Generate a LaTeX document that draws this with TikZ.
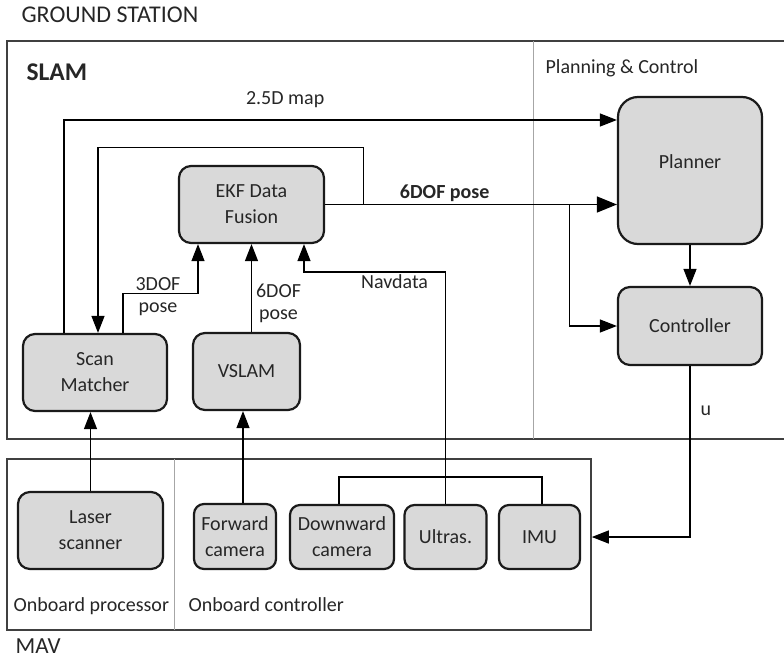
\documentclass[tikz,border=0pt]{standalone}
\usepackage{fontspec}
\setmainfont{Carlito}
\usepackage{tikz}
\usetikzlibrary{arrows.meta,positioning,calc}
\definecolor{boxfill}{HTML}{D9D9D9}
\definecolor{boxline}{HTML}{1A1A1A}
\definecolor{frameline}{HTML}{404040}
\definecolor{divline}{HTML}{A6A6A6}
\definecolor{txt}{HTML}{262626}
\newcommand\diafont{\fontsize{20}{26}\selectfont}
\newcommand\lblfont{\fontsize{20}{22}\selectfont}
\tikzset{
    >={Triangle[length=17pt,width=13pt]},
    every picture/.style={line width=1.2pt},
    box/.style={draw=boxline,fill=boxfill,line width=2.2pt,rounded corners=12pt,
        align=center,inner sep=2pt,font=\diafont,text=txt},
    lbl/.style={inner sep=2pt,align=center,font=\lblfont,text=txt},
    title/.style={inner sep=0pt,anchor=base west,font=\diafont,text=txt},
    frame/.style={draw=frameline,line width=1.6pt},
    divider/.style={draw=divline,line width=1pt}
}

\begin{document}
\begin{tikzpicture}[x=1pt,y=-1pt]
    \useasboundingbox (0,0) rectangle (784,659);

    % Ground station
    \draw[frame] (790,41) -- (7,41) -- (7,439) -- (790,439);
    \draw[divider] (533,41) -- (533,439);
    \node[title,font=\fontsize{24}{28}\selectfont] (gs) at (21,22) {GROUND STATION};
    \node[title,font=\fontsize{25.5}{30}\selectfont\bfseries] (slam) at (26,80) {SLAM};
    \node[title] (pc) at (545,73) {Planning \& Control};

    \node[box,minimum width=145pt,minimum height=77pt] (ekf) at (251.5,204.5) {EKF Data\\Fusion};
    \node[box,rounded corners=20pt,minimum width=144pt,minimum height=147pt,text depth=18pt] (planner) at (690,170.5) {Planner};
    \node[box,minimum width=144pt,minimum height=78pt] (ctrl) at (690,326) {Controller};
    \node[box,minimum width=144pt,minimum height=77pt] (scan) at (95,372.5) {Scan\\Matcher};
    \node[box,minimum width=107pt,minimum height=77pt] (vslam) at (246.5,371.5) {VSLAM};

    % MAV
    \node[frame,minimum width=584pt,minimum height=171pt,inner sep=0pt] (mav) at (299,544.5) {};
    \draw[divider] (174,459) -- (174,630);
    \node[box,minimum width=145pt,minimum height=77pt] (laser) at (90.5,530.5) {Laser\\scanner};
    \node[box,rounded corners=10pt,minimum width=82pt,minimum height=65pt] (fwd) at (235,536.5) {Forward\\camera};
    \node[box,rounded corners=10pt,minimum width=104pt,minimum height=64pt] (down) at (342,537) {Downward\\camera};
    \node[box,rounded corners=10pt,minimum width=82pt,minimum height=64pt] (ultra) at (445.5,537) {Ultras.};
    \node[box,rounded corners=10pt,minimum width=81pt,minimum height=64pt] (imu) at (539.5,537) {IMU};
    \node[title] (proc) at (13,611) {Onboard processor};
    \node[title] (onctrl) at (188,611) {Onboard controller};
    \node[title,font=\fontsize{23}{27}\selectfont,text depth=0pt] (mavlbl) at (15,653.5) {MAV};

    % map and pose to planning
    \draw[->] ([xshift=-31pt]scan.north) |- ([yshift=50.5pt]planner.west)
        node[lbl,pos=0.7,above=10pt] (maplbl) {2.5D map};
    \draw[->,>={Triangle[length=20pt,width=16pt]}] (ekf.east) -- (ekf.east -| planner.west)
        node[lbl,pos=0.41,above,font=\lblfont\bfseries] (poselbl) {6DOF pose};
    \draw[->] ([xshift=244pt]ekf.east) |- (ctrl.west);
    \draw[->] (planner.south) -- (ctrl.north);
    \draw[->] ([xshift=38pt]ekf.east) -- ++(0,-57) -| ([xshift=3pt]scan.north);

    % inputs of the EKF
    \draw[->] ([xshift=28pt]scan.north) |- ([xshift=-53.5pt,yshift=-49pt]ekf.south)
        node[lbl,pos=0.75,xshift=-2.5pt,yshift=-4pt] (dof3lbl) {3DOF\\pose}
        -- ([xshift=-53.5pt]ekf.south);
    \draw[->] (vslam.north -| ekf.south) -- (ekf.south)
        node[lbl,pos=0.32,anchor=west,xshift=2pt] (dof6lbl) {6DOF\\pose};
    \draw[->] (ultra.north) -- ++(0,-232) -| ([xshift=52.5pt]ekf.south)
        node[lbl,pos=0.18,below] (navlbl) {Navdata};
    \draw ([xshift=-3pt]down.north) -- ++(0,-27) -| ([xshift=2.5pt]imu.north);

    % sensors
    \draw[->] (laser.north) -- (laser.north |- scan.south);
    \draw[->] ([xshift=8pt]fwd.north) -- ([xshift=8pt]fwd.north |- vslam.south);

    % control output
    \draw[->] (ctrl.south) |- (mav.east |- imu.east)
        node[lbl,pos=0.13,right=8pt] (ulbl) {u};
\end{tikzpicture}
\end{document}
